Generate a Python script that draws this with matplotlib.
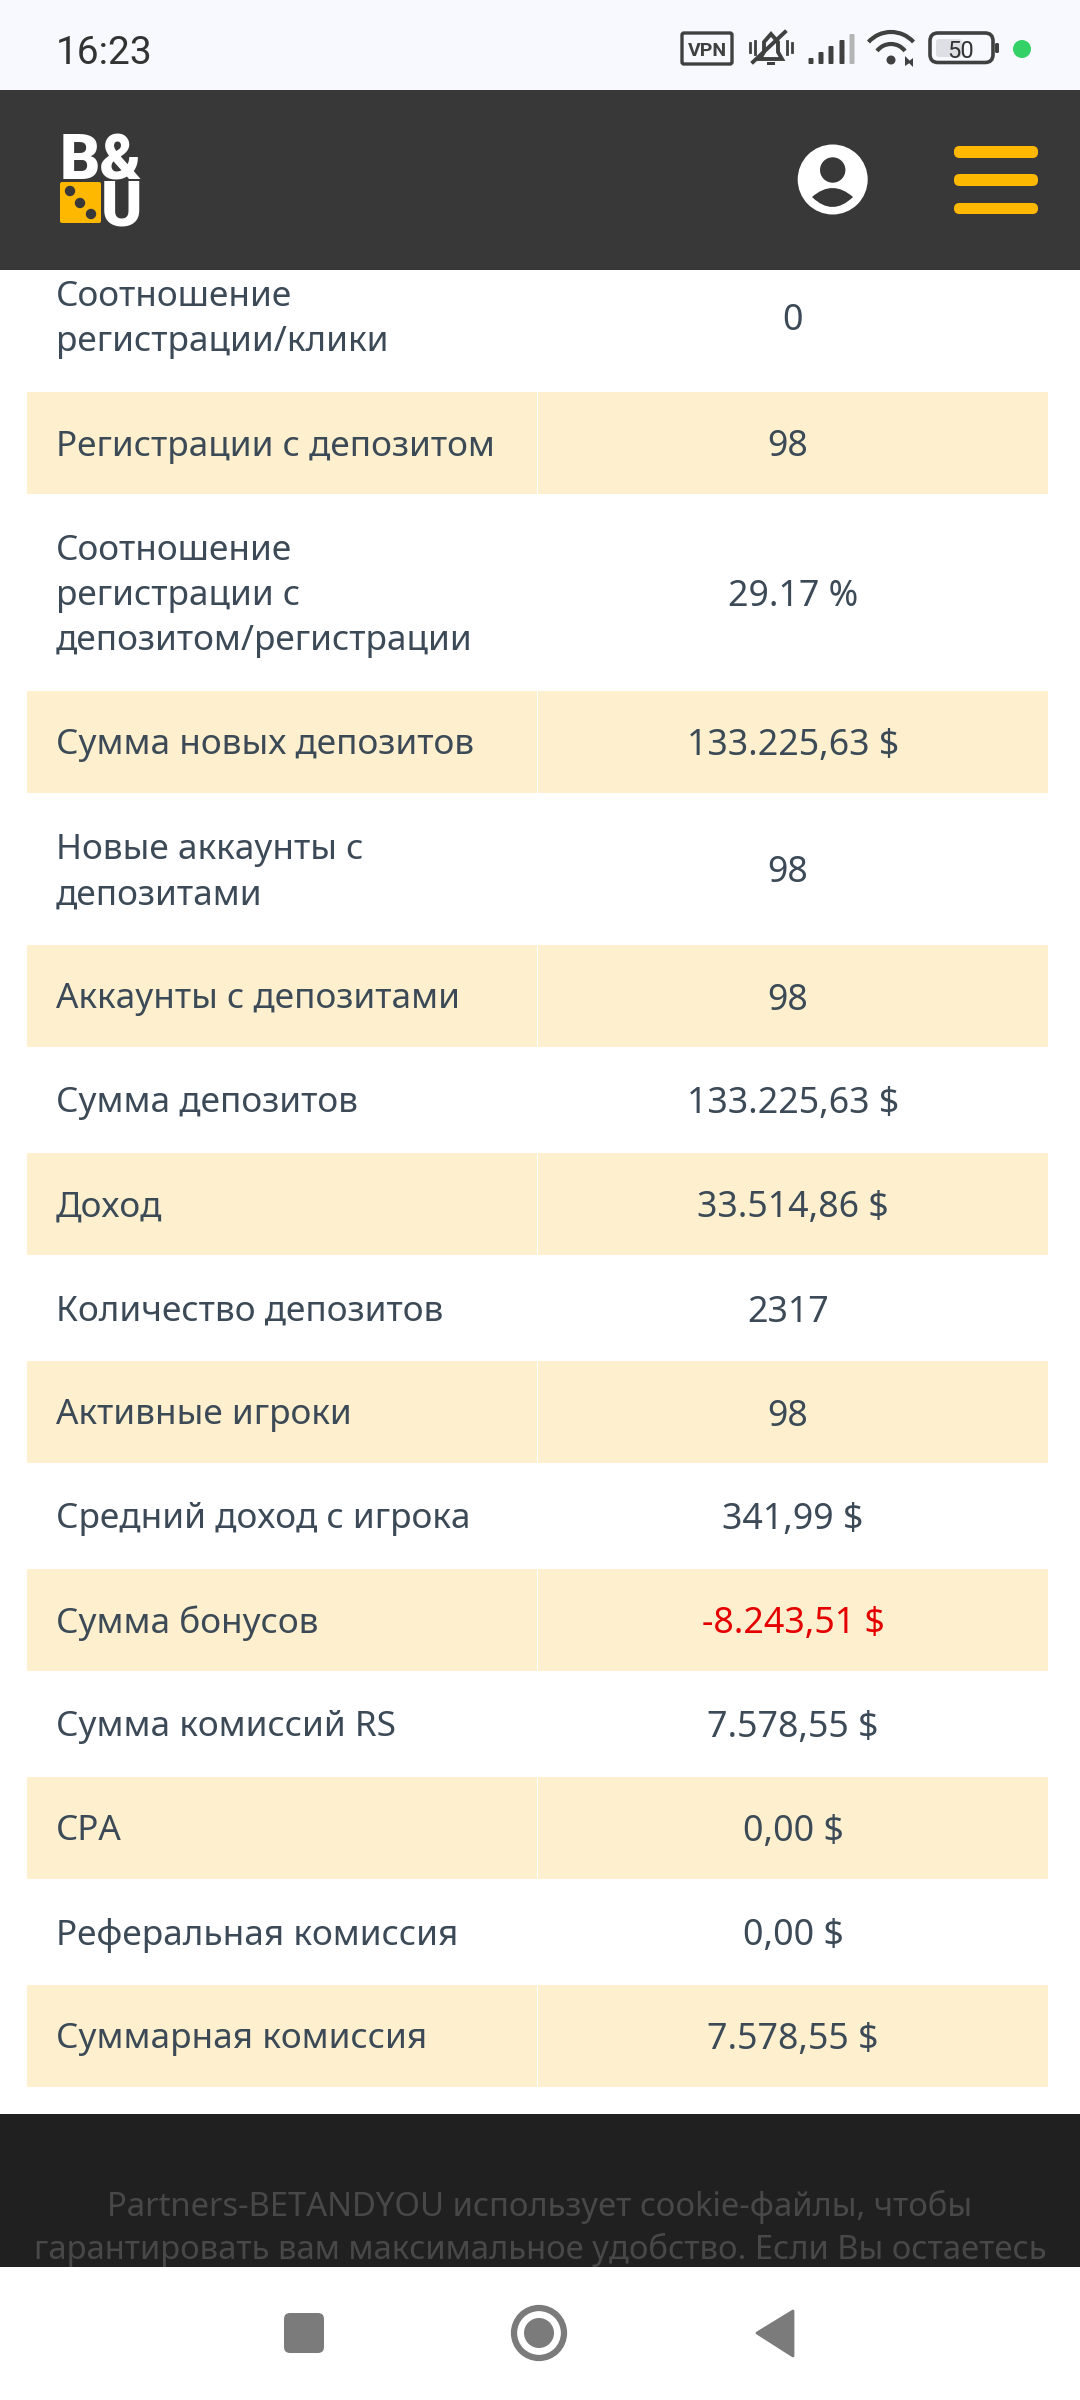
import matplotlib
matplotlib.use("Agg")
import matplotlib.pyplot as plt
from matplotlib.patches import Rectangle, FancyBboxPatch, Circle, Polygon, Arc, PathPatch
from matplotlib.path import Path

plt.rcParams['font.family'] = ['Noto Sans', 'DejaVu Sans']

labels = [
    "Соотношение\nрегистрации/клики",
    "Регистрации с депозитом",
    "Соотношение\nрегистрации с\nдепозитом/регистрации",
    "Сумма новых депозитов",
    "Новые аккаунты с\nдепозитами",
    "Аккаунты с депозитами",
    "Сумма депозитов",
    "Доход",
    "Количество депозитов",
    "Активные игроки",
    "Средний доход с игрока",
    "Сумма бонусов",
    "Сумма комиссий RS",
    "CPA",
    "Реферальная комиссия",
    "Суммарная комиссия",
]
values = [
    "0", "98", "29.17 %", "133.225,63 $", "98", "98", "133.225,63 $", "33.514,86 $",
    "2317", "98", "341,99 $", "-8.243,51 $", "7.578,55 $", "0,00 $", "0,00 $", "7.578,55 $",
]
cookie_lines = [
    "Partners-BETANDYOU использует cookie-файлы, чтобы",
    "гарантировать вам максимальное удобство. Если Вы остаетесь",
]

TEXT = "#3b4a56"
STRIPE = "#fef0cf"
YELLOW = "#ffb800"
HEADER = "#383838"
ICON = "#404040"
GREY = "#7b7b7b"

fig = plt.figure(figsize=(10.8, 24), dpi=100)
ax = fig.add_axes([0, 0, 1, 1])
ax.set_xlim(0, 1080)
ax.set_ylim(2400, 0)
ax.axis("off")


def box(x0, y0, x1, y1, color, z=1):
    ax.add_patch(Rectangle((x0, y0), x1 - x0, y1 - y0, fc=color, ec="none", zorder=z))


def rbox(x0, y0, x1, y1, r, fc, ec="none", lw=0, z=6):
    ax.add_patch(FancyBboxPatch((x0 + r, y0 + r), x1 - x0 - 2 * r, y1 - y0 - 2 * r,
                                boxstyle=f"round,pad={r},rounding_size={r}",
                                fc=fc, ec=ec, lw=lw, zorder=z))


def row_height(n_lines, striped):
    if n_lines == 1:
        return 102 if striped else 106
    return {2: 152, 3: 197}[n_lines]


# table
y = 392 - 152
for i, (lab, val) in enumerate(zip(labels, values)):
    lines = lab.split("\n")
    striped = i % 2 == 1
    h = row_height(len(lines), striped)
    if striped:
        box(27, y, 536.5, y + h, STRIPE)
        box(538, y, 1048, y + h, STRIPE)
    mid = y + h / 2
    for k, line in enumerate(lines):
        ly = mid + (k - (len(lines) - 1) / 2) * 45.5 - 0.5
        ax.text(56, ly, line, fontsize=25.3, color=TEXT, ha="left", va="center_baseline", zorder=2)
    color = "#e50000" if val.startswith("-") else TEXT
    vx = 793 if (val[-1] in "$%" or val == "0") else 788
    ax.text(vx, mid, val, fontsize=25.7, color=color, ha="center", va="center_baseline", zorder=2)
    y += h

# footer with cookie notice
box(0, 2114, 1080, 2267, "#202020")
for ly, line in zip([2203, 2246], cookie_lines):
    ax.text(540, ly, line, fontsize=23.6, color="#484848", ha="center", va="center_baseline", zorder=2)

# bottom navigation
box(0, 2267, 1080, 2400, "white", z=3)
rbox(284, 2313, 324, 2353, 6, GREY)
ax.add_patch(Circle((539, 2333), 25, fc="white", ec=GREY, lw=4.5, zorder=6))
ax.add_patch(Circle((539, 2333), 15, fc=GREY, ec="none", zorder=7))
ax.add_patch(Polygon([[793, 2311], [793, 2356], [757, 2333]], closed=True, fc=GREY, ec=GREY,
                     lw=2, joinstyle="round", zorder=6))

# header
box(0, 90, 1080, 270, HEADER, z=4)
ax.text(142.5, 185.5, "B&\nU", fontsize=45, fontweight="black", family="Roboto", color="white",
        ha="right", va="center", multialignment="right", linespacing=0.72, zorder=6)
rbox(60, 182, 101, 223, 2, YELLOW)
for dx, dy in [(70, 191), (80, 203), (91, 214)]:
    ax.add_patch(Circle((dx, dy), 5.2, fc=HEADER, ec="none", zorder=7))

ax.add_patch(Circle((832.7, 179.5), 35, fc="white", ec="none", zorder=6))
ax.add_patch(Circle((832.7, 170), 12.7, fc=HEADER, ec="none", zorder=7))
body = Path([(812, 197), (832.5, 179), (853, 197), (832.5, 217), (812, 197)],
            [Path.MOVETO, Path.CURVE3, Path.CURVE3, Path.CURVE3, Path.CURVE3])
ax.add_patch(PathPatch(body, fc=HEADER, ec="none", zorder=7))
for y0, y1 in [(146, 158), (174, 186), (203, 214)]:
    rbox(954, y0, 1038, y1, 5.5, YELLOW)

# status bar
box(0, 0, 1080, 90, "#f7f9ff", z=4)
ax.text(56, 49.5, "16:23", fontsize=28, family="Roboto", color="#333333", ha="left",
        va="center_baseline", zorder=6)

rbox(682, 33, 732, 64, 2, "none", ec=ICON, lw=2.4)
ax.text(707, 48.5, "VPN", fontsize=14, fontweight="bold", family="Roboto", color=ICON,
        ha="center", va="center_baseline", zorder=6)

# muted bell
ax.add_patch(Polygon([[760, 59], [764, 52], [764, 42], [771, 34], [778, 42], [778, 52], [782, 59]],
                     closed=True, fc="none", ec=ICON, lw=2.8, zorder=6))
ax.add_patch(Rectangle((767, 62), 8, 3, fc=ICON, ec="none", zorder=6))
ax.plot([753, 785], [62, 32], color=ICON, lw=2.8, zorder=7)
for bx, t, b in [(750, 43, 52), (755, 41, 54), (787, 41, 54), (792, 43, 52)]:
    ax.plot([bx, bx], [t, b], color=ICON, lw=2, zorder=6)

# signal bars
for bx, top, col in [(811, 58, ICON), (821, 52, ICON), (831, 46, ICON), (842, 40, ICON), (852, 34, "#b4b4b4")]:
    rbox(bx - 2.5, top, bx + 2.5, 64, 1, col)

# wifi
ax.add_patch(Arc((891, 62.3), 60.6, 60.6, theta1=222, theta2=318, ec=ICON, lw=3, zorder=6))
ax.add_patch(Arc((891, 61.5), 35, 35, theta1=217, theta2=323, ec=ICON, lw=3, zorder=6))
ax.add_patch(Circle((891, 60), 4.5, fc=ICON, ec="none", zorder=6))
ax.add_patch(Polygon([[905, 66], [905, 56], [911, 62]], closed=True, fc=ICON, ec="none", zorder=6))
ax.add_patch(Polygon([[913, 58], [913, 67], [908, 62]], closed=True, fc=ICON, ec="none", zorder=6))

# battery
rbox(930, 33, 993, 62.5, 8, "none", ec=ICON, lw=2.6)
rbox(936, 39, 962, 57, 3, "#dddfe4", z=5)
ax.text(961, 49, "50", fontsize=17, family="Roboto", color="#333333", ha="center",
        va="center_baseline", zorder=7)
rbox(995, 43, 999, 53, 1.5, ICON)
ax.add_patch(Circle((1022, 49), 9, fc="#33d166", ec="none", zorder=6))

fig.savefig("out.png", dpi=100, facecolor="white")
